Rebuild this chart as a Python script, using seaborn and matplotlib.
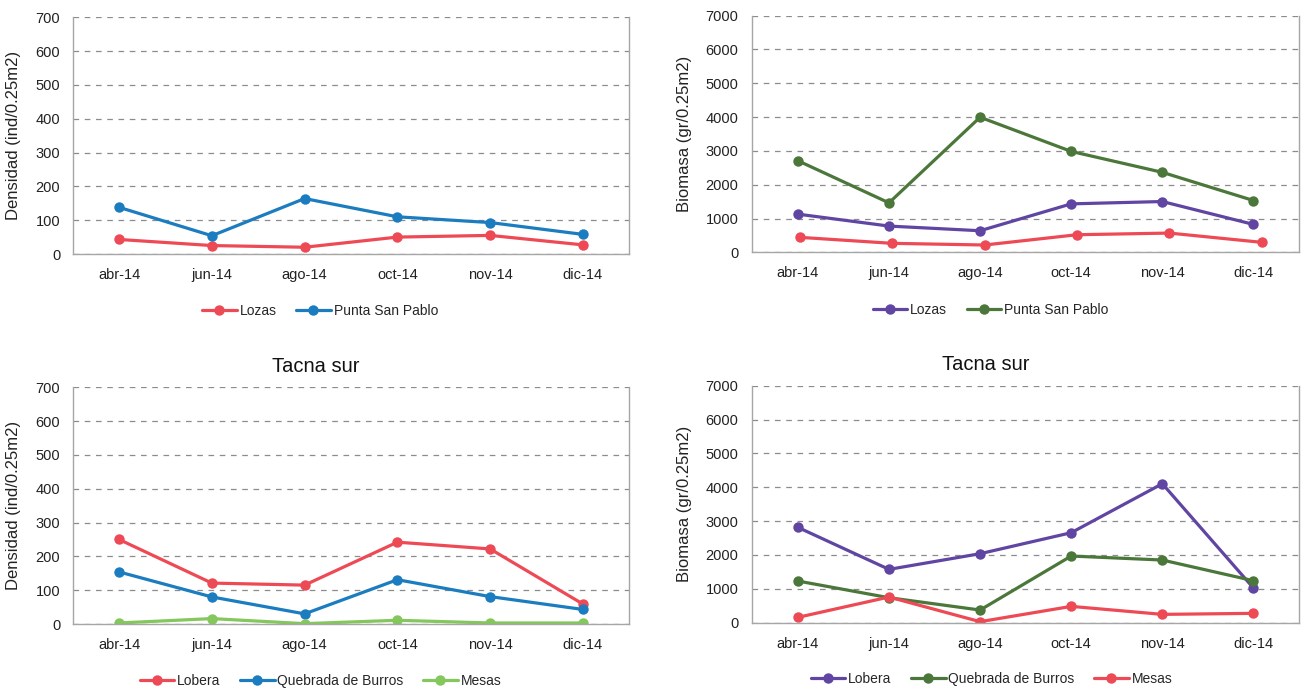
import matplotlib
matplotlib.use("Agg")
import matplotlib.pyplot as plt
import seaborn as sns
import pandas as pd

sns.set_theme(style="white")
plt.rcParams["font.family"] = ["Liberation Sans", "DejaVu Sans"]

months = ["abr-14", "jun-14", "ago-14", "oct-14", "nov-14", "dic-14"]

# Densidad, norte
dens_lozas = [43, 25, 20, 50, 55, 27]
dens_punta = [138, 54, 164, 110, 93, 58]

# Biomasa, norte
bio_lozas = [1129, 776, 638, 1433, 1502, 825]
bio_punta = [2710, 1463, 3996, 2985, 2366, 1532]
bio_extra = [442, 265, 216, 520, 569, 295]

# Densidad, Tacna sur
dens_lobera = [250, 121, 115, 242, 222, 59]
dens_quebrada = [154, 80, 30, 131, 81, 43]
dens_mesas = [3, 16, 1, 11, 3, 3]

# Biomasa, Tacna sur
bio_lobera = [2816, 1575, 2038, 2658, 4105, 1024]
bio_quebrada = [1231, 738, 374, 1969, 1851, 1240]
bio_mesas = [158, 758, 30, 482, 246, 276]

RED = "#EE4A55"
BLUE = "#1C7CC0"
PURPLE = "#6046A2"
DKGREEN = "#4B773A"
LTGREEN = "#84C75C"
TEXT = "#222222"

LINE_KW = dict(marker="o", markersize=7.5, markeredgewidth=0, linewidth=2.3)


def long_df(series):
    rows = []
    for name, vals in series.items():
        for m, v in zip(months, vals):
            rows.append({"mes": m, "valor": v, "sitio": name})
    return pd.DataFrame(rows)


W, H = 1304, 689
fig = plt.figure(figsize=(W / 100, H / 100), dpi=100)


def make_ax(x0, x1, y0, y1):
    return fig.add_axes([x0 / W, 1 - y1 / H, (x1 - x0) / W, (y1 - y0) / H])


def style(ax, ymax, step, ylabel, label_x, ypad):
    ax.set_xlim(-0.5, 5.5)
    ax.set_ylim(0, ymax)
    ax.set_yticks(range(0, ymax + 1, step))
    ax.set_xticks(range(len(months)))
    ax.set_xticklabels(months)
    ax.yaxis.grid(True, linestyle=(0, (4.5, 4.5)), color="#8c8c8c", linewidth=0.9)
    ax.xaxis.grid(False)
    ax.set_axisbelow(True)
    for s in ["left", "bottom", "right"]:
        ax.spines[s].set_visible(True)
        ax.spines[s].set_color("#a6a6a6")
        ax.spines[s].set_linewidth(1.0)
    ax.spines["top"].set_visible(False)
    ax.tick_params(axis="y", length=0, pad=ypad, labelsize=10.5, labelcolor=TEXT)
    ax.tick_params(axis="x", length=0, pad=10, labelsize=10.5, labelcolor=TEXT)
    ax.set_xlabel("")
    ax.set_ylabel(ylabel, fontsize=12, color=TEXT)
    ax.yaxis.set_label_coords(label_x, 0.5)


def draw(ax, series, palette, legend_center, ncol):
    df = long_df(series)
    sns.lineplot(data=df, x="mes", y="valor", hue="sitio", palette=palette,
                 sort=False, ax=ax, **LINE_KW)
    handles, labels = ax.get_legend_handles_labels()
    ax.legend(handles, labels, loc="center",
              bbox_to_anchor=(legend_center[0] / W, 1 - legend_center[1] / H),
              bbox_transform=fig.transFigure, ncol=ncol, frameon=False,
              handlelength=2.5, handletextpad=0.2, columnspacing=1.4,
              prop={"size": 10})


def axes_fraction(px, x0, x1):
    return (px - x0) / (x1 - x0)


# Top-left: densidad
L0, L1 = 72.7, 629.3
R0, R1 = 752.3, 1299.0

ax1 = make_ax(L0, L1, 17.3, 254)
draw(ax1, {"Lozas": dens_lozas, "Punta San Pablo": dens_punta},
     [RED, BLUE], (320, 311), 2)
style(ax1, 700, 100, "Densidad (ind/0.25m2)", axes_fraction(20.7, L0, L1), 9)

# Top-right: biomasa (extra series sits on its own, slightly wider category axis)
ax2 = make_ax(R0, R1, 15.7, 252.3)
draw(ax2, {"Lozas": bio_lozas, "Punta San Pablo": bio_punta},
     [PURPLE, DKGREEN], (990.5, 310), 2)
style(ax2, 7000, 1000, "Biomasa (gr/0.25m2)", axes_fraction(691.7, R0, R1), 10)
ax2t = ax2.twiny()
sns.lineplot(x=months, y=bio_extra, color=RED, sort=False, ax=ax2t,
             legend=False, **LINE_KW)
ax2t.set_xlim(-0.517, 5.404)
ax2t.set_ylim(0, 7000)
ax2t.set_axis_off()

# Bottom-left: densidad Tacna sur
ax3 = make_ax(L0, L1, 387.3, 624)
draw(ax3, {"Lobera": dens_lobera, "Quebrada de Burros": dens_quebrada,
           "Mesas": dens_mesas},
     [RED, BLUE, LTGREEN], (320.5, 681), 3)
style(ax3, 700, 100, "Densidad (ind/0.25m2)", axes_fraction(20.7, L0, L1), 9)

# Bottom-right: biomasa Tacna sur
ax4 = make_ax(R0, R1, 385.7, 622.7)
draw(ax4, {"Lobera": bio_lobera, "Quebrada de Burros": bio_quebrada,
           "Mesas": bio_mesas},
     [PURPLE, DKGREEN, RED], (991.5, 679), 3)
style(ax4, 7000, 1000, "Biomasa (gr/0.25m2)", axes_fraction(691.7, R0, R1), 10)

# Chart titles, centred over the whole chart area
fig.text(316 / W, 1 - 366 / H, "Tacna sur", ha="center", va="center",
         fontsize=14.5, color="#111111")
fig.text(986 / W, 1 - 365 / H, "Tacna sur", ha="center", va="center",
         fontsize=14.5, color="#111111")

fig.savefig("out.png", dpi=100, facecolor="white")
